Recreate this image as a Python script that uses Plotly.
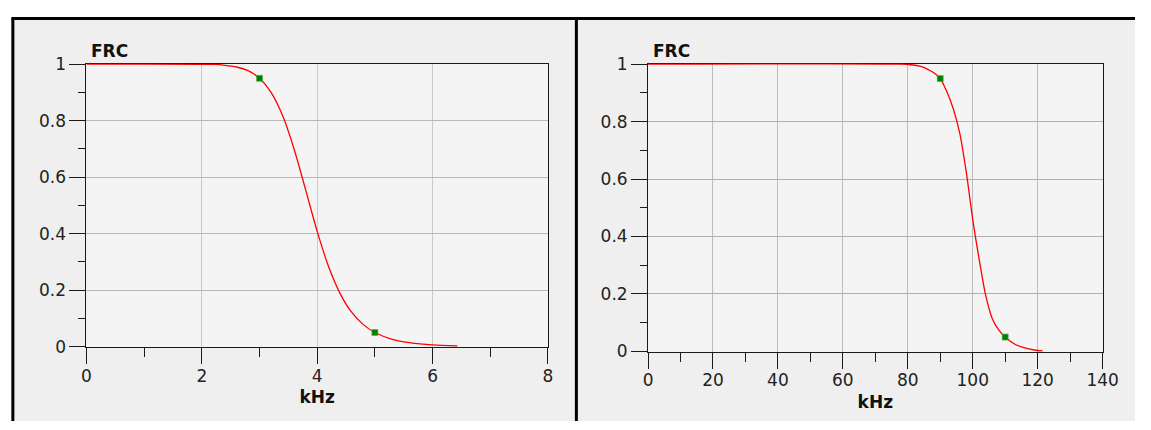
import plotly.graph_objects as go

W, H = 1151, 430

# ---- data ----
left_x = [0, 2.2, 2.4, 2.6, 2.8, 3.0, 3.2, 3.4, 3.6, 3.8, 4.0, 4.2, 4.4, 4.6, 4.8, 5.0, 5.3, 5.6, 6.0, 6.43]
left_y = [1, 0.999, 0.996, 0.99, 0.977, 0.95, 0.90, 0.818, 0.699, 0.555, 0.408, 0.282, 0.187, 0.121, 0.078, 0.05, 0.026, 0.014, 0.006, 0.003]
left_pts_x = [3, 5]
left_pts_y = [0.95, 0.05]

right_x = [0, 78, 81, 84, 86, 88, 90, 92, 94, 96, 98, 100, 102, 104, 106, 108, 110, 113, 116, 119, 121.5]
right_y = [1, 1, 0.998, 0.992, 0.983, 0.97, 0.95, 0.905, 0.845, 0.76, 0.625, 0.46, 0.32, 0.195, 0.115, 0.075, 0.05, 0.025, 0.012, 0.005, 0.002]
right_pts_x = [90, 110]
right_pts_y = [0.95, 0.05]

left_xticks = [0, 2, 4, 6, 8]
right_xticks = [0, 20, 40, 60, 80, 100, 120, 140]
y_ticks = [0, 0.2, 0.4, 0.6, 0.8, 1]
x_title = "kHz"
y_title = "FRC"


def px(x):
    return x / W


def py(y):
    return 1 - y / H


# plot-area pixel boxes
L = dict(x0=83, x1=553, y0=57, y1=353)
R = dict(x0=655, x1=1118, y0=57, y1=358)

FONT = "DejaVu Sans"
TXT = "#222222"
FS = 17

fig = go.Figure()

fig.add_trace(go.Scatter(x=left_x, y=left_y, mode="lines",
                         line=dict(color="#ff0000", width=1.3, shape="spline", smoothing=0.8),
                         xaxis="x", yaxis="y", showlegend=False, hoverinfo="skip"))
fig.add_trace(go.Scatter(x=left_pts_x, y=left_pts_y, mode="markers",
                         marker=dict(symbol="square", size=6, color="#008000",
                                     line=dict(width=0.6, color="#4caf50")),
                         xaxis="x", yaxis="y", showlegend=False, cliponaxis=False))
fig.add_trace(go.Scatter(x=right_x, y=right_y, mode="lines",
                         line=dict(color="#ff0000", width=1.3, shape="spline", smoothing=0.8),
                         xaxis="x2", yaxis="y2", showlegend=False, hoverinfo="skip"))
fig.add_trace(go.Scatter(x=right_pts_x, y=right_pts_y, mode="markers",
                         marker=dict(symbol="square", size=6, color="#008000",
                                     line=dict(width=0.6, color="#4caf50")),
                         xaxis="x2", yaxis="y2", showlegend=False, cliponaxis=False))


def xaxis(dom, rng, ticks, minor_dt, anchor, gridcolor):
    return dict(domain=dom, range=rng, tickvals=ticks, anchor=anchor,
                showline=True, linecolor="#1a1a1a", linewidth=1, mirror=True,
                ticks="outside", ticklen=16, tickwidth=1, tickcolor="#1a1a1a",
                minor=dict(dtick=minor_dt, ticks="outside", ticklen=9, tickcolor="#1a1a1a",
                           tickwidth=1, showgrid=False),
                showgrid=True, gridcolor=gridcolor, gridwidth=1, zeroline=False,
                tickfont=dict(family=FONT, size=FS, color=TXT),
                ticklabelstandoff=-3,
                title=dict(text="<b>%s</b>" % x_title, font=dict(family=FONT, size=FS, color="#111111"),
                           standoff=6),
                layer="below traces", fixedrange=True)


def yaxis(dom, anchor, gridcolor):
    return dict(domain=dom, range=[-0.002, 1.002], tickvals=y_ticks, anchor=anchor,
                showline=True, linecolor="#1a1a1a", linewidth=1, mirror=True,
                ticks="outside", ticklen=16, tickwidth=1, tickcolor="#1a1a1a",
                minor=dict(dtick=0.1, ticks="outside", ticklen=7, tickcolor="#1a1a1a",
                           tickwidth=1, showgrid=False),
                showgrid=True, gridcolor=gridcolor, gridwidth=1, zeroline=False,
                tickfont=dict(family=FONT, size=FS, color=TXT),
                layer="below traces", fixedrange=True)


shapes = [
    # panel background
    dict(type="rect", xref="paper", yref="paper", x0=px(8), x1=1, y0=0, y1=py(10),
         fillcolor="#efefef", line=dict(width=0), layer="below"),
    # plot areas
    dict(type="rect", xref="paper", yref="paper", x0=px(L["x0"]), x1=px(L["x1"]),
         y0=py(L["y1"]), y1=py(L["y0"]), fillcolor="#f4f4f4", line=dict(width=0), layer="below"),
    dict(type="rect", xref="paper", yref="paper", x0=px(R["x0"]), x1=px(R["x1"]),
         y0=py(R["y1"]), y1=py(R["y0"]), fillcolor="#f4f4f4", line=dict(width=0), layer="below"),
    # frame lines
    dict(type="line", xref="paper", yref="paper", x0=px(6.5), x1=1, y0=py(10), y1=py(10),
         line=dict(color="#000000", width=3), layer="above"),
    dict(type="line", xref="paper", yref="paper", x0=px(8), x1=px(8), y0=py(10), y1=0,
         line=dict(color="#000000", width=3), layer="above"),
    dict(type="line", xref="paper", yref="paper", x0=px(582), x1=px(582), y0=py(10), y1=0,
         line=dict(color="#000000", width=3), layer="above"),
]

annotations = [
    dict(text="<b>%s</b>" % y_title, xref="paper", yref="paper", x=px(86), y=py(44),
         xanchor="left", yanchor="middle", showarrow=False,
         font=dict(family=FONT, size=FS, color="#111111")),
    dict(text="<b>%s</b>" % y_title, xref="paper", yref="paper", x=px(658), y=py(44),
         xanchor="left", yanchor="middle", showarrow=False,
         font=dict(family=FONT, size=FS, color="#111111")),
]

fig.update_layout(
    width=W, height=H, autosize=False,
    margin=dict(l=0, r=0, t=0, b=0, pad=0),
    paper_bgcolor="#ffffff", plot_bgcolor="rgba(0,0,0,0)",
    xaxis=xaxis([px(L["x0"]), px(L["x1"])], [0, 8], left_xticks, 1, "y", "#cacaca"),
    yaxis=yaxis([py(L["y1"]), py(L["y0"])], "x", "#b8b8b8"),
    xaxis2=xaxis([px(R["x0"]), px(R["x1"])], [0, 140], right_xticks, 10, "y2", "#bcbcbc"),
    yaxis2=yaxis([py(R["y1"]), py(R["y0"])], "x2", "#b0b0b0"),
    shapes=shapes, annotations=annotations, showlegend=False,
)

fig.write_html("out.html", config=dict(displayModeBar=False, responsive=False),
               post_script="document.body.style.margin='0';document.body.style.padding='0';"
                           "document.documentElement.style.overflow='hidden';")
